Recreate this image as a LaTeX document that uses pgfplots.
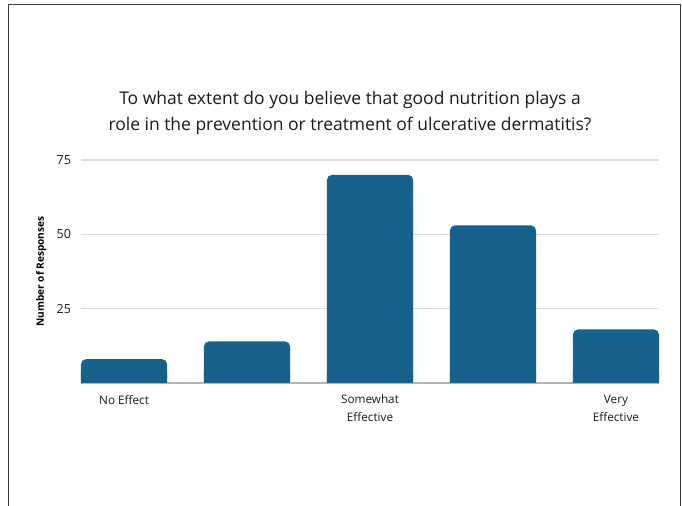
\documentclass[border=0pt]{standalone}
\usepackage{fontspec}
\setmainfont{Open Sans}
\usepackage{pgfplots}
\pgfplotsset{compat=1.18}

\definecolor{barblue}{HTML}{17618B}
\definecolor{gridgray}{HTML}{DEDEDE}
\definecolor{basegray}{HTML}{B4B4B4}
\definecolor{textdark}{HTML}{1A1A1A}
\definecolor{framegray}{HTML}{3A3A3A}

\begin{document}
\begin{tikzpicture}
% page area and frame
\useasboundingbox (0,0) rectangle (511.5pt,379.5pt);
\draw[framegray, line width=1.2pt] (6.375pt,0pt) -- (6.375pt,376.125pt) -- (510.375pt,376.125pt) -- (510.375pt,0pt);

% title
\node[anchor=base, text=textdark, font=\fontsize{13.1}{15}\selectfont] at (262.5pt,301pt)
  {To what extent do you believe that good nutrition plays a};
\node[anchor=base, text=textdark, font=\fontsize{13.1}{15}\selectfont] at (262.5pt,281.5pt)
  {role in the prevention or treatment of ulcerative dermatitis?};

\begin{axis}[
  at={(60.75pt,92.25pt)}, anchor=south west,
  scale only axis, width=433.5pt, height=167.25pt,
  xmin=-0.35, xmax=4.35, ymin=0, ymax=75,
  ybar, bar width=0.7, bar shift=0pt,
  axis x line*=bottom, axis y line*=left,
  axis line style={draw=none},
  major tick length=0pt,
  xtick={0,1,2,3,4},
  xticklabels={No Effect,,{Somewhat\\Effective},,{Very\\Effective}},
  ytick={25,50,75},
  ymajorgrids, grid style={gridgray, line width=0.8pt},
  extra y ticks={0}, extra y tick labels={},
  extra y tick style={grid style={basegray, line width=0.9pt}},
  /pgf/number format/assume math mode=true,
  ticklabel style={text=textdark, font=\fontsize{8.8}{13.5}\selectfont},
  xticklabel style={align=center, yshift=-5.5pt},
  yticklabel style={xshift=-4pt, font=\fontsize{9.4}{11}\selectfont},
  ylabel={Number of Responses},
  ylabel style={at={(axis description cs:-0.069,0.5)}, anchor=center,
    text=black, font=\fontsize{7.6}{9}\selectfont\bfseries},
  clip=true,
]
% responses per category
\addplot[fill=barblue, draw=none, rounded corners=3.75pt] coordinates {
  (0,8) (1,14) (2,70) (3,53) (4,18)
};
% square feet for the bars
\addplot[fill=barblue, draw=none] coordinates {
  (0,3) (1,3) (2,3) (3,3) (4,3)
};
\end{axis}
\end{tikzpicture}
\end{document}
